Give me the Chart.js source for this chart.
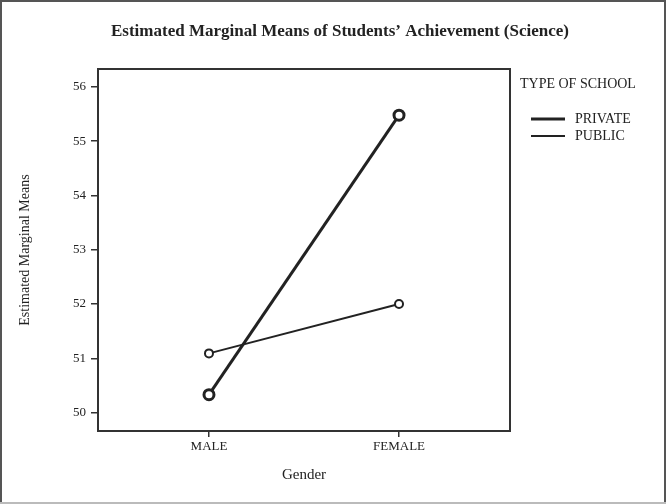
<!DOCTYPE html>
<html>
<head>
<meta charset="utf-8">
<script src="https://cdn.jsdelivr.net/npm/chart.js@4"></script>
<style>
  html, body { margin: 0; padding: 0; background: #fff; }
  #wrap { width: 666px; height: 504px; position: relative; }
</style>
</head>
<body>
<div id="wrap"><canvas id="c" width="666" height="504"></canvas></div>
<script>
const categories = ['MALE', 'FEMALE'];
const seriesNames = ['PRIVATE', 'PUBLIC'];
const privateValues = [50.33, 55.48];
const publicValues = [51.09, 52.0];
const yTicks = [50, 51, 52, 53, 54, 55, 56];
const chartTitle = 'Estimated Marginal Means of Students\u2019 Achievement (Science)';
const legendTitle = 'TYPE OF SCHOOL';
const xTitle = 'Gender';
const yTitle = 'Estimated Marginal Means';

const SERIF = '"Liberation Serif", "DejaVu Serif", serif';
const INK = '#222';

function toPoints(vals) { return vals.map((v, i) => ({ x: i, y: v })); }

const decor = {
  id: 'decor',
  beforeDraw(chart) {
    const ctx = chart.ctx;
    ctx.save();
    ctx.fillStyle = '#fff';
    ctx.fillRect(0, 0, chart.width, chart.height);
    // outer frame
    ctx.strokeStyle = '#555';
    ctx.lineWidth = 2;
    ctx.beginPath();
    ctx.moveTo(1, chart.height); ctx.lineTo(1, 1); ctx.lineTo(chart.width - 1, 1); ctx.lineTo(chart.width - 1, chart.height);
    ctx.stroke();
    ctx.strokeStyle = '#bbb';
    ctx.beginPath();
    ctx.moveTo(0, chart.height - 1); ctx.lineTo(chart.width, chart.height - 1);
    ctx.stroke();
    // title
    ctx.fillStyle = INK;
    ctx.font = 'bold 17px ' + SERIF;
    ctx.textAlign = 'center';
    ctx.textBaseline = 'middle';
    ctx.fillText(chartTitle, 340, 32);
    ctx.restore();
  },
  afterDraw(chart) {
    const ctx = chart.ctx;
    const a = chart.chartArea;
    ctx.save();
    ctx.strokeStyle = '#333';
    ctx.lineWidth = 2;
    ctx.strokeRect(a.left, a.top, a.right - a.left, a.bottom - a.top);
    // legend
    ctx.fillStyle = INK;
    ctx.font = '14px ' + SERIF;
    ctx.textAlign = 'left';
    ctx.textBaseline = 'middle';
    ctx.fillText(legendTitle, 520, 84);
    const ys = [119, 136];
    chart.data.datasets.forEach((ds, i) => {
      ctx.strokeStyle = ds.borderColor;
      ctx.lineWidth = ds.borderWidth;
      ctx.beginPath();
      ctx.moveTo(531, ys[i]); ctx.lineTo(565, ys[i]);
      ctx.stroke();
      ctx.fillStyle = INK;
      ctx.fillText(ds.label, 575, ys[i]);
    });
    ctx.restore();
  }
};

new Chart(document.getElementById('c'), {
  type: 'line',
  data: {
    datasets: [
      {
        label: seriesNames[0],
        data: toPoints(privateValues),
        borderColor: INK, borderWidth: 3,
        pointRadius: 5, pointBorderWidth: 3,
        pointBackgroundColor: '#fff', pointBorderColor: INK,
        tension: 0
      },
      {
        label: seriesNames[1],
        data: toPoints(publicValues),
        borderColor: INK, borderWidth: 2,
        pointRadius: 4, pointBorderWidth: 2,
        pointBackgroundColor: '#fff', pointBorderColor: INK,
        tension: 0
      }
    ]
  },
  options: {
    responsive: false,
    animation: false,
    layout: { padding: { left: 0, top: 69, right: 156, bottom: 0 } },
    plugins: { legend: { display: false }, tooltip: { enabled: false } },
    scales: {
      x: {
        type: 'linear',
        min: -0.584, max: 1.584,
        afterBuildTicks(s) { s.ticks = categories.map((c, i) => ({ value: i })); },
        afterFit(s) { s.height = 73; },
        ticks: {
          callback: (v) => categories[v],
          color: INK, font: { family: SERIF, size: 13 }, padding: 2, maxRotation: 0
        },
        grid: { drawOnChartArea: false, drawTicks: true, tickLength: 6, color: '#333', lineWidth: 1.5 },
        border: { display: false },
        title: { display: true, text: xTitle, color: INK, font: { family: SERIF, size: 15 }, padding: { top: 0, bottom: 20 } }
      },
      y: {
        min: 49.66, max: 56.33,
        afterBuildTicks(s) { s.ticks = yTicks.map(v => ({ value: v })); },
        afterFit(s) { s.width = 98; },
        ticks: { color: INK, font: { family: SERIF, size: 13 }, padding: 5 },
        grid: { drawOnChartArea: false, drawTicks: true, tickLength: 7, color: '#333', lineWidth: 1.5 },
        border: { display: false },
        title: { display: true, text: yTitle, color: INK, font: { family: SERIF, size: 14 }, padding: { top: 17, bottom: 0 } }
      }
    }
  },
  plugins: [decor]
});
</script>
</body>
</html>
